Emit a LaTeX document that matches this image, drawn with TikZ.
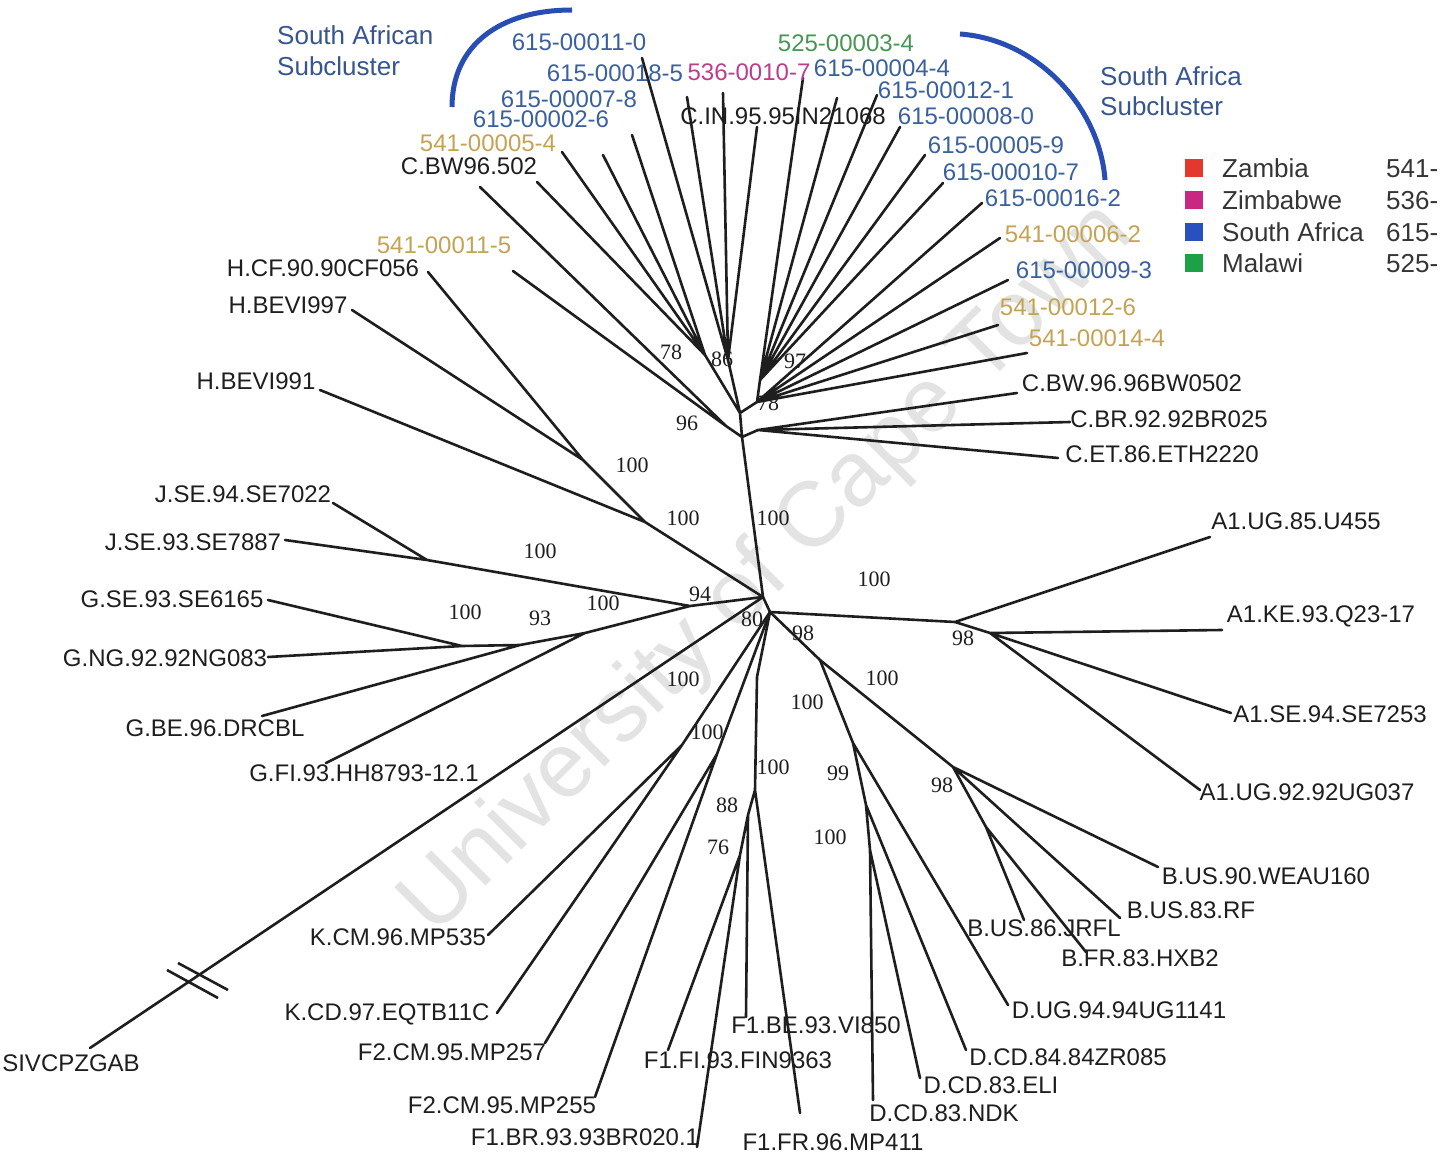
\documentclass[tikz,border=0pt]{standalone}
\usepackage{fontspec}
\setmainfont{Liberation Sans}
\newfontfamily\bsfont{Liberation Serif}
\definecolor{sab}{RGB}{58,96,158}
\definecolor{zam}{RGB}{196,164,84}
\definecolor{zim}{RGB}{190,60,140}
\definecolor{mal}{RGB}{72,150,84}
\definecolor{subc}{RGB}{55,85,145}
\definecolor{arcb}{RGB}{40,78,180}
\definecolor{lr}{RGB}{226,56,46}
\definecolor{lm}{RGB}{200,40,130}
\definecolor{lb}{RGB}{40,80,190}
\definecolor{lg}{RGB}{30,160,70}
\definecolor{ink}{RGB}{30,30,30}
\tikzset{
  br/.style={draw=ink, line width=2.6pt, line cap=round},
  lab/.style={font=\fontsize{24}{26}\selectfont, inner sep=0pt, text height=17pt, text depth=0pt, text=ink},
  boot/.style={font=\bsfont\fontsize{22}{24}\selectfont, inner sep=0pt, text height=15pt, text depth=0pt, text=ink},
  subt/.style={font=\fontsize{26}{28}\selectfont, inner sep=0pt, text height=18.6pt, text depth=0pt, text=subc, anchor=west},
  legt/.style={font=\fontsize{26}{28}\selectfont, inner sep=0pt, text height=18.6pt, text depth=0pt, text=ink!90, anchor=west},
  sq/.style={inner sep=0pt, minimum size=18pt},
  arcl/.style={draw=arcb, line width=5pt}
}
\begin{document}
\begin{tikzpicture}[x=1pt,y=-1pt]
\useasboundingbox (0,0) rectangle (1454,1158);
\fill[white] (0,0) rectangle (1454,1158);
% watermark
\node[font=\fontsize{92}{96}\selectfont, text=black!11, rotate=45, inner sep=0pt] (wm) at (768,570) {University of Cape Town};

% internal nodes
\coordinate (N1) at (763,597);
\coordinate (N2) at (770,612);
\coordinate (C0) at (742,437);
\coordinate (Cv) at (740,413);
\coordinate (c96) at (726,426);
\coordinate (c78) at (705,355);
\coordinate (c86) at (728,360);
\coordinate (c97) at (760,380);
\coordinate (c78b) at (757,402);
\coordinate (cR) at (758,430);
\coordinate (h2) at (645,522);
\coordinate (h1) at (583,460);
\coordinate (jg) at (690,606);
\coordinate (j0) at (427,560);
\coordinate (g3) at (585,633);
\coordinate (g2) at (520,645);
\coordinate (g1) at (462,646);
\coordinate (a0) at (955,622);
\coordinate (a1) at (990,633);
\coordinate (bd) at (820,660);
\coordinate (b0) at (953,767);
\coordinate (b1) at (986,827);
\coordinate (d1) at (853,743);
\coordinate (d2) at (866,805);
\coordinate (d3) at (870,850);
\coordinate (k0) at (682,745);
\coordinate (f2) at (717,754);
\coordinate (fs) at (757,677);
\coordinate (f1) at (755,790);
\coordinate (f1b) at (748,815);
\coordinate (f1c) at (740,855);

% leaf ends
\coordinate (t01) at (480,187);
\coordinate (t02) at (513,271);
\coordinate (t03) at (537,182);
\coordinate (t04) at (562,152);
\coordinate (t05) at (603,155);
\coordinate (t06) at (632,135);
\coordinate (t07) at (642,58);
\coordinate (t08) at (687,97);
\coordinate (t09) at (723,93);
\coordinate (t10) at (757,127);
\coordinate (t11) at (803,78);
\coordinate (t12) at (837,98);
\coordinate (t13) at (877,95);
\coordinate (t14) at (900,127);
\coordinate (t15) at (925,155);
\coordinate (t16) at (943,183);
\coordinate (t17) at (982,203);
\coordinate (t18) at (1000,238);
\coordinate (t19) at (1008,280);
\coordinate (t20) at (998,325);
\coordinate (t21) at (1027,353);
\coordinate (t22) at (1017,393);
\coordinate (t23) at (1070,422);
\coordinate (t24) at (1058,458);
\coordinate (hA) at (428,272);
\coordinate (hB) at (352,310);
\coordinate (hC) at (320,390);
\coordinate (jA) at (333,503);
\coordinate (jB) at (285,540);
\coordinate (gA) at (268,600);
\coordinate (gB) at (268,657);
\coordinate (gC) at (262,716);
\coordinate (gD) at (326,763);
\coordinate (aA) at (1210,537);
\coordinate (aB) at (1222,630);
\coordinate (aC) at (1231,713);
\coordinate (aD) at (1200,790);
\coordinate (bA) at (1158,867);
\coordinate (bB) at (1120,918);
\coordinate (bC) at (1024,920);
\coordinate (bD) at (1086,952);
\coordinate (dA) at (1008,1005);
\coordinate (dB) at (966,1050);
\coordinate (dC) at (920,1078);
\coordinate (dD) at (873,1100);
\coordinate (fA) at (800,1113);
\coordinate (fB) at (746,1017);
\coordinate (fC) at (668,1050);
\coordinate (fD) at (697,1147);
\coordinate (fE) at (595,1097);
\coordinate (fF) at (545,1043);
\coordinate (kA) at (497,1013);
\coordinate (kB) at (488,935);
\coordinate (siv) at (90,1048);
\coordinate (brk1a) at (167,970);
\coordinate (brk1b) at (218,998);
\coordinate (brk2a) at (178,963);
\coordinate (brk2b) at (228,990);

% branches
\draw[br] (C0)--(N1) (N1)--(N2) (C0)--(Cv) (C0)--(c96) (C0)--(cR)
  (Cv)--(c78) (Cv)--(c86) (Cv)--(c78b) (c78b)--(c97);
\draw[br] (c96)--(t01) (c96)--(t02);
\draw[br] (c78)--(t03) (c78)--(t04) (c78)--(t05) (c78)--(t06);
\draw[br] (c86)--(t07) (c86)--(t08) (c86)--(t09) (c86)--(t10);
\draw[br] (c97)--(t11) (c97)--(t12) (c97)--(t13) (c97)--(t14) (c97)--(t15) (c97)--(t16);
\draw[br] (c78b)--(t17) (c78b)--(t18) (c78b)--(t19) (c78b)--(t20) (c78b)--(t21);
\draw[br] (cR)--(t22) (cR)--(t23) (cR)--(t24);
\draw[br] (N1)--(h2) (h2)--(h1) (h1)--(hA) (h1)--(hB) (h2)--(hC);
\draw[br] (N1)--(jg) (jg)--(j0) (j0)--(jA) (j0)--(jB) (jg)--(g3) (g3)--(g2) (g2)--(g1)
  (g1)--(gA) (g1)--(gB) (g2)--(gC) (g3)--(gD);
\draw[br] (N2)--(a0) (a0)--(aA) (a0)--(a1) (a1)--(aB) (a1)--(aC) (a1)--(aD);
\draw[br] (N2)--(bd) (bd)--(b0) (b0)--(bA) (b0)--(bB) (b0)--(b1) (b1)--(bC) (b1)--(bD);
\draw[br] (bd)--(d1) (d1)--(dA) (d1)--(d2) (d2)--(dB) (d2)--(d3) (d3)--(dC) (d3)--(dD);
\draw[br] (N2)--(k0) (k0)--(kA) (k0)--(kB);
\draw[br] (N2)--(f2) (f2)--(fE) (f2)--(fF);
\draw[br] (N2)--(fs) (fs)--(f1) (f1)--(fA) (f1)--(f1b) (f1b)--(fB) (f1b)--(f1c) (f1c)--(fC) (f1c)--(fD);
\draw[br] (N1)--(siv);
\draw[br, line cap=butt] (brk1a)--(brk1b) (brk2a)--(brk2b);

% subcluster arcs
\coordinate (arL1) at (452,107);
\coordinate (arL2) at (572,10);
\coordinate (arR1) at (960,34);
\coordinate (arR2) at (1105,180);
\draw[arcl] (arL1) .. controls (452,45) and (500,10) .. (arL2);
\draw[arcl] (arR1) .. controls (1040,40) and (1100,110) .. (arR2);
\node[subt] (s1) at (277,35) {South African};
\node[subt] (s2) at (277,66) {Subcluster};
\node[subt] (s3) at (1100,76) {South Africa};
\node[subt] (s4) at (1100,106) {Subcluster};

% top cluster labels
\node[lab,text=sab] (L01) at (579,42) {615-00011-0};
\node[lab,text=sab] (L02) at (615,73) {615-00018-5};
\node[lab,text=zim] (L03) at (749,72) {536-0010-7};
\node[lab,text=mal] (L04) at (846,43) {525-00003-4};
\node[lab,text=sab] (L05) at (882,68) {615-00004-4};
\node[lab,text=sab] (L06) at (569,99) {615-00007-8};
\node[lab,text=sab] (L07) at (541,119) {615-00002-6};
\node[lab,text=zam] (L08) at (488,143) {541-00005-4};
\node[lab] (L09) at (469,166) {C.BW96.502};
\node[lab] (L10) at (783,116) {C.IN.95.95IN21068};
\node[lab,text=sab] (L11) at (946,90) {615-00012-1};
\node[lab,text=sab] (L12) at (966,116) {615-00008-0};
\node[lab,text=sab] (L13) at (996,145) {615-00005-9};
\node[lab,text=sab] (L14) at (1011,172) {615-00010-7};
\node[lab,text=sab] (L15) at (1053,198) {615-00016-2};
\node[lab,text=zam] (L16) at (1073,234) {541-00006-2};
\node[lab,text=sab] (L17) at (1084,270) {615-00009-3};
\node[lab,text=zam] (L18) at (1068,307) {541-00012-6};
\node[lab,text=zam] (L19) at (1097,338) {541-00014-4};
\node[lab] (L20) at (1132,383) {C.BW.96.96BW0502};
\node[lab] (L21) at (1169,419) {C.BR.92.92BR025};
\node[lab] (L22) at (1162,454) {C.ET.86.ETH2220};
\node[lab,text=zam] (L23) at (444,245) {541-00011-5};
% left
\node[lab] (L24) at (323,268) {H.CF.90.90CF056};
\node[lab] (L25) at (288,305) {H.BEVI997};
\node[lab] (L26) at (256,381) {H.BEVI991};
\node[lab] (L27) at (243,494) {J.SE.94.SE7022};
\node[lab] (L28) at (193,542) {J.SE.93.SE7887};
\node[lab] (L29) at (172,599) {G.SE.93.SE6165};
\node[lab] (L30) at (165,658) {G.NG.92.92NG083};
\node[lab] (L31) at (215,728) {G.BE.96.DRCBL};
\node[lab] (L32) at (364,773) {G.FI.93.HH8793-12.1};
% right
\node[lab] (L33) at (1296,521) {A1.UG.85.U455};
\node[lab] (L34) at (1321,614) {A1.KE.93.Q23-17};
\node[lab] (L35) at (1330,714) {A1.SE.94.SE7253};
\node[lab] (L36) at (1307,792) {A1.UG.92.92UG037};
\node[lab] (L37) at (1266,876) {B.US.90.WEAU160};
\node[lab] (L38) at (1191,910) {B.US.83.RF};
\node[lab] (L39) at (1044,928) {B.US.86.JRFL};
\node[lab] (L40) at (1140,958) {B.FR.83.HXB2};
\node[lab] (L41) at (1119,1010) {D.UG.94.94UG1141};
\node[lab] (L42) at (1068,1057) {D.CD.84.84ZR085};
\node[lab] (L43) at (991,1085) {D.CD.83.ELI};
\node[lab] (L44) at (944,1113) {D.CD.83.NDK};
% bottom
\node[lab] (L45) at (816,1025) {F1.BE.93.VI850};
\node[lab] (L46) at (738,1060) {F1.FI.93.FIN9363};
\node[lab] (L47) at (833,1142) {F1.FR.96.MP411};
\node[lab] (L48) at (585,1137) {F1.BR.93.93BR020.1};
\node[lab] (L49) at (502,1105) {F2.CM.95.MP255};
\node[lab] (L50) at (452,1052) {F2.CM.95.MP257};
\node[lab] (L51) at (387,1012) {K.CD.97.EQTB11C};
\node[lab] (L52) at (398,937) {K.CM.96.MP535};
\node[lab] (L53) at (71,1063) {SIVCPZGAB};

% bootstrap values
\node[boot] (b01) at (671,352) {78};
\node[boot] (b02) at (722,359) {86};
\node[boot] (b03) at (795,361) {97};
\node[boot] (b04) at (768,403) {78};
\node[boot] (b05) at (687,423) {96};
\node[boot] (b06) at (632,465) {100};
\node[boot] (b07) at (683,518) {100};
\node[boot] (b08) at (773,518) {100};
\node[boot] (b09) at (540,551) {100};
\node[boot] (b10) at (465,612) {100};
\node[boot] (b11) at (540,618) {93};
\node[boot] (b12) at (603,603) {100};
\node[boot] (b13) at (700,594) {94};
\node[boot] (b14) at (752,619) {80};
\node[boot] (b15) at (803,633) {98};
\node[boot] (b16) at (874,579) {100};
\node[boot] (b17) at (963,638) {98};
\node[boot] (b18) at (683,679) {100};
\node[boot] (b19) at (882,678) {100};
\node[boot] (b20) at (807,702) {100};
\node[boot] (b21) at (707,732) {100};
\node[boot] (b22) at (773,767) {100};
\node[boot] (b23) at (838,773) {99};
\node[boot] (b24) at (942,785) {98};
\node[boot] (b25) at (727,805) {88};
\node[boot] (b26) at (718,847) {76};
\node[boot] (b27) at (830,837) {100};

% legend
\node[sq,fill=lr] (q1) at (1194,168) {};
\node[sq,fill=lm] (q2) at (1194,200) {};
\node[sq,fill=lb] (q3) at (1194,232) {};
\node[sq,fill=lg] (q4) at (1194,263) {};
\node[legt] (z1) at (1222,168) {Zambia};
\node[legt] (z2) at (1222,200) {Zimbabwe};
\node[legt] (z3) at (1222,232) {South Africa};
\node[legt] (z4) at (1222,263) {Malawi};
\node[legt] (n1) at (1386,168) {541-};
\node[legt] (n2) at (1386,200) {536-};
\node[legt] (n3) at (1386,232) {615-};
\node[legt] (n4) at (1386,263) {525-};
\end{tikzpicture}
\end{document}
